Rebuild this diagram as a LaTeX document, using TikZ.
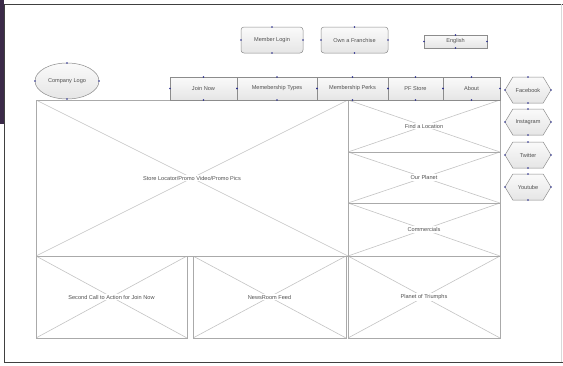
\documentclass[tikz,border=0pt]{standalone}
\usepackage{fontspec}
\setmainfont{Liberation Sans}
\usetikzlibrary{shapes.geometric,shapes.symbols}
\definecolor{txt}{HTML}{505050}
\definecolor{edge}{HTML}{8C8C8C}
\definecolor{xline}{HTML}{C4C4C4}
\definecolor{xedge}{HTML}{AAAAAA}
\definecolor{dotc}{HTML}{2B2F8F}
\definecolor{barc}{HTML}{3B2A48}
\definecolor{frame}{HTML}{404040}
\tikzset{
  every node/.style={font=\fontsize{5.6}{6.5}\selectfont, text=txt, inner sep=0pt, outer sep=0pt},
  btn/.style={draw=edge, line width=0.5pt, top color=gray!4, bottom color=gray!20, rectangle},
  rbtn/.style={btn, rounded corners=3pt},
  navbox/.style={btn, minimum height=23pt},
  hexa/.style={btn, signal, signal to=east and west, signal pointer angle=118, minimum width=46pt, minimum height=26pt},
  oval/.style={btn, ellipse, minimum width=64pt, minimum height=36pt},
  xbox/.style={draw=xedge, line width=0.6pt, rectangle,
    path picture={\draw[xline, line width=0.6pt] (path picture bounding box.north west) -- (path picture bounding box.south east)
      (path picture bounding box.north east) -- (path picture bounding box.south west);}},
  xlab/.style={fill=white, inner sep=1pt},
}
\begin{document}
\begin{tikzpicture}[x=1pt,y=-1pt]
\useasboundingbox (0,0) rectangle (563,365);
\fill[white] (0,0) rectangle (563,365);
% frame
\fill[barc] (0,0) rectangle (4,124);
\draw[frame, line width=1pt] (4,4) -- (563,4);
\draw[frame, line width=1pt] (4,4) -- (4,362) -- (563,362);
\draw[gray!30, line width=0.6pt] (561,4) -- (561,362);

% X boxes
\node[xbox, minimum width=312pt, minimum height=156pt, label={[xlab]center:Store Locator/Promo Video/Promo Pics}] (promo) at (192,178) {};
\node[xbox, minimum width=152pt, minimum height=52pt, label={[xlab]center:Find a Location}] (find) at (424,126) {};
\node[xbox, minimum width=152pt, minimum height=51pt, label={[xlab]center:Our Planet}] (planet) at (424,177.5) {};
\node[xbox, minimum width=152pt, minimum height=53pt, label={[xlab]center:Commercials}] (comm) at (424,229.5) {};
\node[xbox, minimum width=152pt, minimum height=82pt, label={[xlab]center:Planet of Triumphs}] (triumph) at (424,297) {};
\node[xbox, minimum width=151pt, minimum height=82pt, label={[xlab]center:Second Call to Action for Join Now}] (second) at (111.5,297) {};
\node[xbox, minimum width=153pt, minimum height=82pt, label={[xlab]center:NewsRoom Feed}] (news) at (269.5,297) {};

% logo
\node[oval] (logo) at (67,81) {Company Logo};

% top buttons
\node[rbtn, minimum width=62pt, minimum height=26pt] (login) at (272,40) {Member Login};
\node[rbtn, minimum width=67pt, minimum height=26pt] (fran) at (354.5,40) {Own a Franchise};
\node[btn, minimum width=63pt, minimum height=13pt] (eng) at (455.5,41.5) {English};

% nav bar
\node[navbox, minimum width=67pt] (join) at (203.5,88.5) {Join Now};
\node[navbox, minimum width=80pt] (types) at (277,88.5) {Memebership Types};
\node[navbox, minimum width=71pt] (perks) at (352.5,88.5) {Membership Perks};
\node[navbox, minimum width=55pt] (store) at (415.5,88.5) {PF Store};
\node[navbox, minimum width=57pt] (about) at (471.5,88.5) {About};

% social
\node[hexa] (fb) at (528,90) {Facebook};
\node[hexa] (ig) at (528,122) {Instagram};
\node[hexa] (tw) at (528,155) {Twitter};
\node[hexa] (yt) at (528,187) {Youtube};

% connection dots
\foreach \n in {logo,login,fran,eng,join,types,perks,store,about,fb,ig,tw,yt}
  \foreach \a in {north,south,east,west}
    \fill[dotc] (\n.\a) circle (0.9pt);
\end{tikzpicture}
\end{document}
